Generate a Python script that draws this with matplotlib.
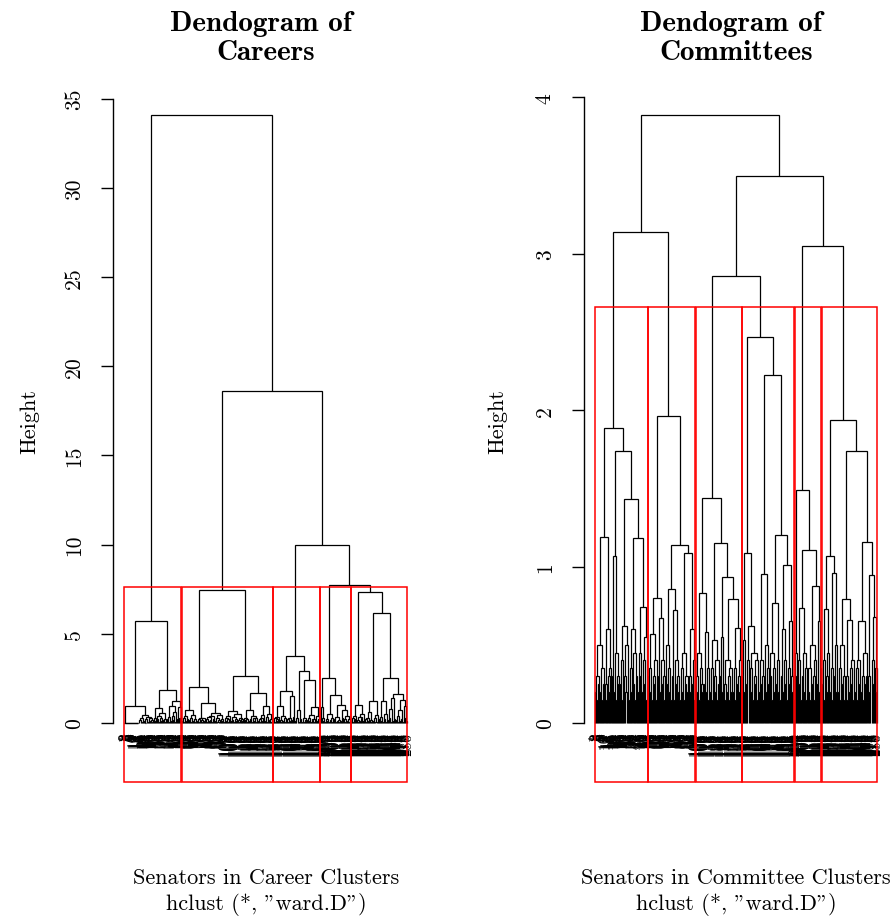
import matplotlib
matplotlib.use("Agg")
import matplotlib.pyplot as plt
from matplotlib.collections import LineCollection
from matplotlib.patches import Rectangle
from matplotlib import transforms
import numpy as np

plt.rcParams['font.family'] = 'cmr10'
plt.rcParams['axes.unicode_minus'] = False
plt.rcParams['mathtext.fontset'] = 'cm'

# ---------- data: merge height between each pair of adjacent leaves (leaf order) ----------
# Careers dendrogram: five clusters and the heights that join them
career_A = [0, 0, 0, 0, 0, 0, 0, 0, 0, 0, 0, 0, 0, 0, 0.94,
            0.15, 0.05, 0.3, 0.1, 0.45, 0.0, 0.2, 0.05, 0.35, 0.1, 0.25, 0.05, 0.15, 5.72,
            0.1, 0.3, 0.82, 0.2, 0.05, 0.4, 0.1, 0.3, 0.15, 0.55, 0.05, 0.2, 1.85,
            0.2, 0.05, 0.35, 0.1, 0.95, 0.15, 0.4, 0.05, 0.6, 0.2, 1.22, 0.3, 0.9, 0.25]
career_B = [0.1, 0.25, 0.05, 0.37, 0.1, 0.2, 0.75, 0.15, 0.3, 0.05, 0.45, 0.1, 0.2, 0.05, 2.04,
            0.1, 0.2, 0.05, 0.3, 0.15, 0.05, 0.25, 0.1, 1.1,
            0.2, 0.05, 0.35, 0.1, 0.15, 0.4, 0.05, 0.2, 0.56, 0.1, 0.3, 0.05, 0.15, 0.45, 0.1, 0.2, 0.05,
            7.46,
            0.1, 0.3, 0.05, 0.2, 0.4, 0.1, 0.65, 0.15, 0.05, 0.35, 0.1, 0.2, 0.5, 0.05, 0.15, 0.3, 0.1,
            0.2, 2.65,
            0.15, 0.3, 0.05, 0.2, 0.1, 0.7, 0.2, 0.05, 0.4, 0.1, 0.25, 0.05, 0.3, 0.1, 1.67,
            0.2, 0.05, 0.3, 0.1, 0.45, 0.94, 0.1, 0.35, 0.05, 0.5, 0.15, 0.2, 0.05]
career_C = [0.1, 0.3, 0.05, 0.2, 0.1, 0.35, 0.97, 0.15, 0.05, 0.4, 0.1, 0.25, 0.05, 1.78,
            0.2, 0.05, 0.3, 0.1, 1.5, 0.15, 0.35, 3.74,
            0.1, 0.25, 0.05, 0.7, 0.2, 0.05, 2.93,
            0.05, 0.3, 0.1, 0.15, 2.41,
            0.1, 0.3, 0.05, 0.45, 0.15, 0.05, 0.2, 0.88, 0.1, 0.4, 0.05, 0.2]
career_D = [0.88, 0.1, 0.3, 0.05, 2.52,
            0.1, 0.2, 0.05, 0.5, 0.15, 0.05, 0.3, 1.55,
            0.2, 0.05, 0.35, 0.1, 0.15, 0.05, 1.0,
            0.1, 0.3, 0.73, 0.2, 0.05, 0.4, 0.1, 0.2, 0.05]
career_E = [0.1, 0.3, 0.05, 0.2, 0.4, 1.03, 0.15, 0.05, 0.35, 0.1, 0.25, 0.5, 0.1, 7.33,
            0.2, 0.05, 0.3, 0.1, 0.6, 0.15, 0.05, 1.25, 0.1, 0.3, 0.05, 0.45, 0.2, 6.17,
            0.1, 0.35, 0.05, 1.25, 0.2, 0.05, 0.5, 0.15, 2.5,
            0.3, 0.05, 0.8, 0.1, 1.39, 0.2, 1.62,
            0.15, 0.05, 0.4, 0.1, 0.7, 0.2, 0.05, 1.3, 0.3, 0.95, 0.1]
career_joins = [34.1, 18.6, 10.0, 7.74]
career_k = 5

# Committees dendrogram: six clusters and the heights that join them
comm_R1 = [0.2, 0.3, 0.15, 0.25, 0.5, 0.2, 0.35, 0.15, 0.25, 1.19,
           0.25, 0.15, 0.6, 0.3, 0.2, 0.35, 1.885,
           0.3, 1.07, 0.2, 0.45, 0.15, 0.3, 0.25, 1.74,
           0.25, 0.4, 0.15, 0.62, 0.3, 0.2, 0.5, 0.15, 1.43,
           0.2, 0.35, 0.6, 0.25, 0.15, 0.45, 0.3, 0.2, 1.18,
           0.3, 0.45, 0.2, 0.74, 0.25, 0.4, 0.15, 0.55, 0.3]
comm_R2 = [0.2, 0.35, 0.15, 0.57, 0.25, 0.3, 0.15, 0.4, 0.80,
           0.3, 0.2, 0.67, 0.25, 0.4, 0.15, 0.3, 1.966,
           0.25, 0.5, 0.2, 0.35, 0.15, 0.86,
           0.3, 0.15, 0.72, 0.25, 0.4, 0.2, 0.3, 0.15, 1.136,
           0.2, 0.35, 0.15, 0.45, 0.25, 0.3, 0.2, 1.09,
           0.3, 0.2, 0.6, 0.25, 0.4, 0.15]
comm_R3 = [0.3, 0.2, 0.45, 0.15, 0.35, 0.25, 0.2, 0.83,
           0.25, 0.58, 0.2, 0.35, 0.15, 1.438,
           0.2, 0.35, 0.15, 0.53, 0.3, 0.2, 0.4, 0.15, 0.25, 1.153,
           0.3, 0.55, 0.2, 0.934,
           0.25, 0.15, 0.4, 0.2, 0.3, 0.15, 0.35, 0.2, 0.796,
           0.2, 0.35, 0.15, 0.61, 0.25, 0.3, 0.2, 0.4]
comm_R4 = [0.3, 0.53, 0.2, 1.087, 0.25, 0.4, 0.62,
           0.2, 0.35, 0.15, 0.45, 0.25, 0.3, 0.15, 0.4, 0.2, 2.47,
           0.25, 0.4, 0.15, 0.3, 0.95, 0.2, 0.5, 0.25, 0.35, 2.225,
           0.3, 0.15, 0.45, 0.2, 0.35, 0.25, 0.766, 0.2, 0.4, 0.15, 1.20,
           0.3, 0.2, 0.6, 0.25, 0.4, 0.15, 1.01, 0.25, 0.35, 0.65, 0.2, 0.3, 0.15]
comm_R5 = [0.3, 0.45, 1.49, 0.25, 0.4, 0.15, 0.736, 0.3, 0.2, 0.45, 0.15, 0.35, 1.104,
           0.2, 0.35, 0.15, 0.5, 0.25, 0.3, 0.15, 0.4, 0.874, 0.25, 0.65, 0.2, 0.35]
comm_R6 = [0.25, 0.4, 0.15, 0.73, 0.3, 0.2, 0.45, 1.07, 0.2, 0.35, 0.15, 0.96, 0.3, 0.5, 0.2,
           1.938,
           0.2, 0.35, 0.15, 0.5, 0.25, 0.3, 0.15, 0.796,
           0.3, 0.15, 0.66, 0.2, 0.35, 0.25, 0.4, 0.15, 1.738,
           0.2, 0.35, 0.15, 0.4, 0.25, 0.65, 0.2, 0.3, 0.15, 0.45, 0.25, 0.3, 1.158,
           0.3, 0.2, 0.944, 0.25, 0.4, 0.68, 0.2, 0.35]
comm_joins = [3.14, 3.89, 2.856, 3.495, 3.047]
comm_k = 6

career_ticks = [0, 5, 10, 15, 20, 25, 30, 35]
comm_ticks = [0, 1, 2, 3, 4]

titles = [("Dendogram of", "Careers"), ("Dendogram of", "Committees")]
xlabels = ["Senators in Career Clusters", "Senators in Committee Clusters"]
sublabel = 'hclust (*, "ward.D")'


def join(clusters, joins):
    gaps = list(clusters[0])
    for j, c in zip(joins, clusters[1:]):
        gaps += [j] + list(c)
    return gaps


career_clusters = [career_A, career_B, career_C, career_D, career_E]
comm_clusters = [comm_R1, comm_R2, comm_R3, comm_R4, comm_R5, comm_R6]
career_gaps = join(career_clusters, career_joins)
comm_gaps = join(comm_clusters, comm_joins)
career_sizes = [len(c) + 1 for c in career_clusters]
comm_sizes = [len(c) + 1 for c in comm_clusters]
career_labels = [str(i + 1) for i in range(len(career_gaps) + 1)]
comm_labels = [str(i + 1) for i in range(len(comm_gaps) + 1)]


def dendro_segments(gaps):
    n = len(gaps) + 1
    segs = []

    def rec(lo, hi):
        if lo == hi:
            return lo + 1, 0.0
        k = lo + int(np.argmax(gaps[lo:hi]))
        h = gaps[k]
        xl, hl = rec(lo, k)
        xr, hr = rec(k + 1, hi)
        segs.append([(xl, hl), (xl, h), (xr, h), (xr, hr)])
        return (xl + xr) / 2.0, h

    rec(0, n - 1)
    return segs


W, H = 896, 920
fig = plt.figure(figsize=(W / 100, H / 100), dpi=100)


def px_axes(l, t, r, b):
    return fig.add_axes([l / W, 1 - b / H, (r - l) / W, (b - t) / H])


def panel(ax, gaps, sizes, k, labels, ybot, ytop, ticks):
    n = len(gaps) + 1
    ax.set_xlim(1 - 0.04 * (n - 1), n + 0.04 * (n - 1))
    ax.set_ylim(ybot, ytop)
    lc = LineCollection(dendro_segments(gaps), colors='black', linewidths=0.9,
                        capstyle='butt', joinstyle='miter')
    ax.add_collection(lc)
    off = ax.transData + transforms.ScaledTranslation(0, -9 / 100, fig.dpi_scale_trans)
    for i, lab in enumerate(labels):
        ax.text(i + 1, 0, lab, rotation=90, ha='center', va='top', fontsize=11,
                transform=off, clip_on=False)
    hs = sorted(gaps, reverse=True)
    cut = (hs[k - 2] + hs[k - 1]) / 2.0
    cum = np.cumsum([0] + sizes)
    for j in range(len(sizes)):
        x0 = cum[j] + 0.66
        x1 = cum[j + 1] + 0.33
        ax.add_patch(Rectangle((x0, ybot), x1 - x0, cut - ybot, fill=False,
                               edgecolor='#ff0000', lw=1.1, clip_on=False, zorder=3))
    for s in ['top', 'right', 'bottom']:
        ax.spines[s].set_visible(False)
    ax.spines['left'].set_bounds(ticks[0], ticks[-1])
    ax.spines['left'].set_linewidth(1.0)
    ax.set_xticks([])
    ax.set_yticks(ticks)
    ax.set_yticklabels([str(t) for t in ticks], rotation=90, va='center')
    ax.tick_params(axis='y', length=9, width=1.0, labelsize=15.5, pad=12)
    ax.patch.set_alpha(0)


axL = px_axes(113, 90, 418.2, 783)
panel(axL, career_gaps, career_sizes, career_k, career_labels, -3.31, 35.54, career_ticks)
axR = px_axes(584, 90, 887.8, 783)
panel(axR, comm_gaps, comm_sizes, comm_k, comm_labels, -0.377, 4.054, comm_ticks)

for cx, (t1, t2), xl, ylx in [(266, titles[0], xlabels[0], 30), (736, titles[1], xlabels[1], 498)]:
    fig.text((cx - 5.5) / W, 1 - 24 / H, t1, family='cmb10', fontsize=21, ha='center', va='center')
    fig.text(cx / W, 1 - 53 / H, t2, family='cmb10', fontsize=21, ha='center', va='center')
    fig.text(cx / W, 1 - 878 / H, xl, fontsize=16, ha='center', va='center')
    fig.text(cx / W, 1 - 905 / H, sublabel, fontsize=16, ha='center', va='center')
    fig.text(ylx / W, 1 - 422 / H, "Height", fontsize=16, rotation=90, ha='center', va='center')

fig.savefig("out.png", dpi=100)
